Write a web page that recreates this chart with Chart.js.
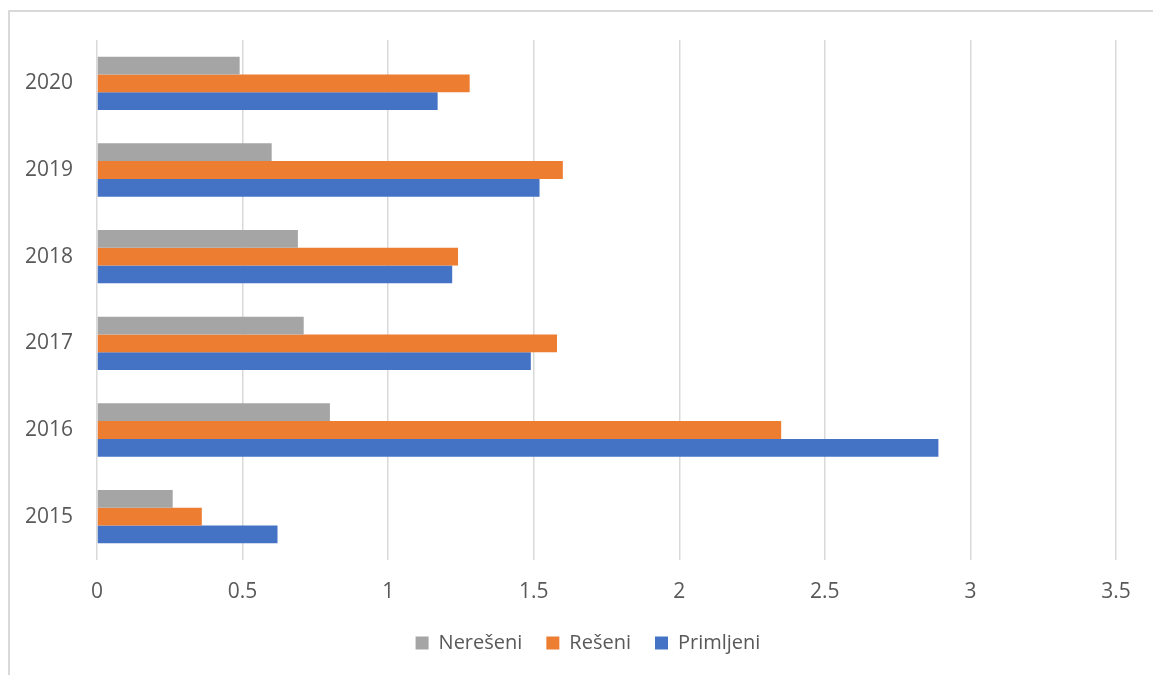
<!DOCTYPE html>
<html>
<head>
<meta charset="utf-8">
<script src="https://cdn.jsdelivr.net/npm/chart.js@4/dist/chart.umd.min.js"></script>
<style>
  html, body { margin: 0; padding: 0; background: #ffffff; }
  #frame {
    position: absolute; left: 8px; top: 10px; width: 1150px; height: 700px;
    border-left: 2px solid #d9d9d9; border-top: 2px solid #d9d9d9;
  }
  #chart { position: absolute; left: 0; top: 0; }
</style>
</head>
<body>
<div id="frame"></div>
<canvas id="chart" width="1153" height="675"></canvas>
<script>
// Years, top to bottom as in the picture
const years = ['2020', '2019', '2018', '2017', '2016', '2015'];

// Series values
const nereseni = [0.49, 0.6, 0.69, 0.71, 0.8, 0.26];
const reseni = [1.28, 1.6, 1.24, 1.58, 2.35, 0.36];
const primljeni = [1.17, 1.52, 1.22, 1.49, 2.89, 0.62];

// X axis ticks
const xTicks = [0, 0.5, 1, 1.5, 2, 2.5, 3, 3.5];

const textColor = '#595959';
const gridColor = '#d9d9d9';
const fontFamily = '"Open Sans", sans-serif';

// legend sits a bit right of the canvas centre, like the original
const shiftLegend = {
  id: 'shiftLegend',
  afterLayout: function(chart) {
    if (chart.legend) chart.legend.left = 60;
  }
};

const ctx = document.getElementById('chart').getContext('2d');
new Chart(ctx, {
  type: 'bar',
  data: {
    labels: years,
    datasets: [
      { label: 'Nerešeni', data: nereseni, backgroundColor: '#a5a5a5' },
      { label: 'Rešeni', data: reseni, backgroundColor: '#ed7d31' },
      { label: 'Primljeni', data: primljeni, backgroundColor: '#4472c4' }
    ]
  },
  options: {
    indexAxis: 'y',
    responsive: false,
    animation: false,
    devicePixelRatio: 1,
    datasets: {
      bar: { categoryPercentage: 0.615, barPercentage: 1.0 }
    },
    layout: { padding: { left: 0, right: 37, top: 40, bottom: 12 } },
    scales: {
      x: {
        min: 0,
        max: 3.5,
        afterBuildTicks: function(scale) {
          scale.ticks = xTicks.map(function(v) { return { value: v }; });
        },
        afterFit: function(scale) { scale.height = 49; },
        ticks: {
          color: textColor,
          font: { family: fontFamily, size: 21 },
          padding: 19,
          callback: function(value) { return String(value); }
        },
        grid: { color: gridColor, lineWidth: 1.5, drawTicks: false },
        border: { display: false }
      },
      y: {
        afterFit: function(scale) { scale.width = 97; },
        ticks: {
          color: textColor,
          font: { family: fontFamily, size: 21 },
          padding: 24
        },
        grid: { display: false, drawTicks: false },
        border: { display: false }
      }
    },
    plugins: {
      legend: {
        position: 'bottom',
        labels: {
          color: textColor,
          font: { family: fontFamily, size: 20 },
          boxWidth: 13,
          boxHeight: 13,
          padding: 24
        }
      },
      tooltip: { enabled: false }
    }
  },
  plugins: [shiftLegend]
});
</script>
</body>
</html>
